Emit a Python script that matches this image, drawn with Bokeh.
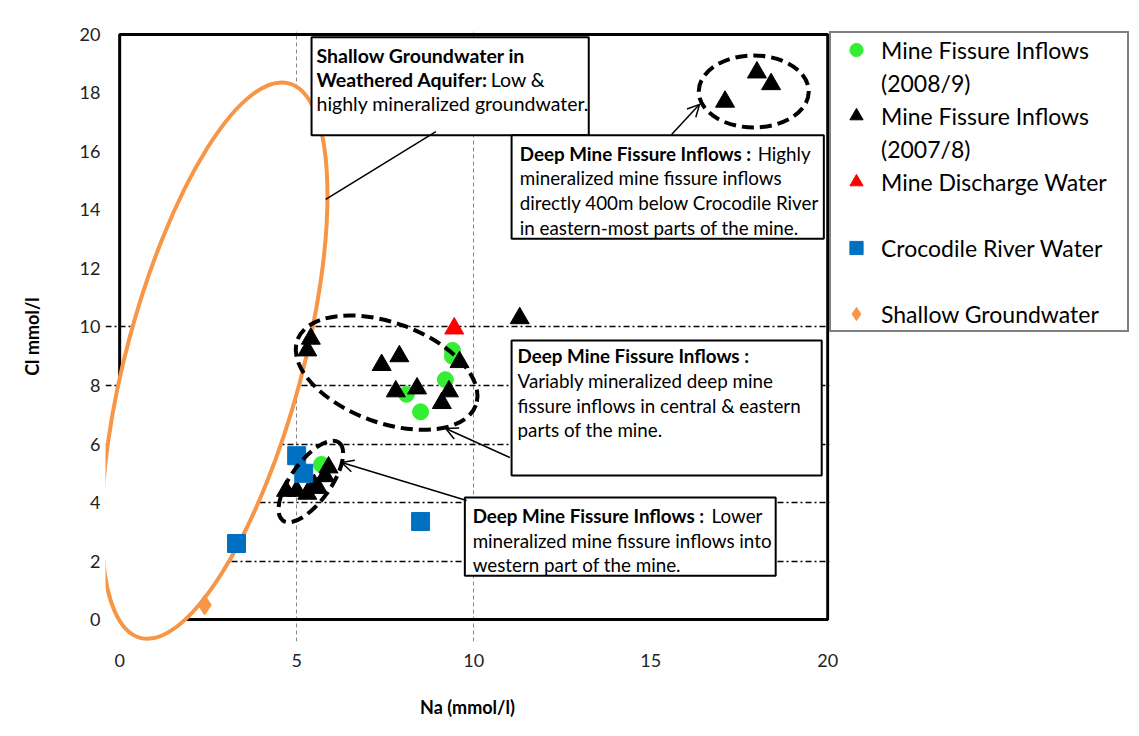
from bokeh.plotting import figure
from bokeh.models import (Range1d, FixedTicker, Legend, LegendItem,
                          BoxAnnotation, Label, Arrow, OpenHead)
from bokeh.core.properties import value
from bokeh.embed import file_html
from bokeh.resources import INLINE

# ---------------- data (Na, Cl in mmol/l) ----------------
fissure_0809_na = [5.7, 8.1, 8.5, 9.2, 9.4, 9.4]
fissure_0809_cl = [5.3, 7.7, 7.1, 8.2, 9.0, 9.2]

fissure_0708_na = [17.1, 18.0, 18.4, 11.3, 5.4, 5.3, 7.4, 7.9, 7.8, 8.4,
                   9.6, 9.3, 9.1, 4.7, 5.0, 5.3, 5.5, 5.8, 5.9, 5.6]
fissure_0708_cl = [17.7, 18.7, 18.3, 10.3, 9.6, 9.2, 8.7, 9.0, 7.8, 7.9,
                   8.8, 7.8, 7.4, 4.4, 4.4, 4.3, 4.6, 4.9, 5.2, 4.5]

discharge_na = [9.45]
discharge_cl = [9.95]

river_na = [5.0, 5.2, 8.5, 3.3]
river_cl = [5.6, 5.0, 3.35, 2.6]

shallow_na = [2.4]
shallow_cl = [0.5]

x_ticks = [0, 5, 10, 15, 20]
y_ticks = [0, 2, 4, 6, 8, 10, 12, 14, 16, 18, 20]
h_grid = [2, 4, 6, 8, 10]
v_grid = [5, 10]

FONT = "Lato"

p = figure(frame_width=724, frame_height=610,
           x_range=Range1d(-0.4, 20.05), y_range=Range1d(-0.75, 20.1),
           min_border_left=105, min_border_right=300, min_border_top=31, min_border_bottom=87,
           output_backend="svg", toolbar_location=None)
p.outline_line_color = None
p.background_fill_color = "white"
p.border_fill_color = "white"

# axes
p.xaxis.ticker = FixedTicker(ticks=x_ticks)
p.yaxis.ticker = FixedTicker(ticks=y_ticks)
for ax in (p.xaxis[0], p.yaxis[0]):
    ax.axis_line_color = None
    ax.major_tick_line_color = None
    ax.minor_tick_line_color = None
    ax.major_label_text_font = FONT
    ax.major_label_text_font_size = "18px"
    ax.major_label_text_color = "#222222"
    ax.axis_label_text_font = FONT
    ax.axis_label_text_font_size = "18px"
    ax.axis_label_text_font_style = "bold"
    ax.axis_label_text_color = "black"
p.xaxis.axis_label = "Na (mmol/l)"
p.yaxis.axis_label = "Cl mmol/l"
p.xaxis.major_label_standoff = 6
p.xaxis.axis_label_standoff = 26
p.yaxis.major_label_standoff = -1
p.yaxis.axis_label_standoff = 34

# grids
p.ygrid.ticker = FixedTicker(ticks=h_grid)
p.ygrid.grid_line_color = "black"
p.ygrid.grid_line_width = 1.5
p.ygrid.grid_line_dash = "6 3 2 3"
p.xgrid.ticker = FixedTicker(ticks=v_grid)
p.xgrid.grid_line_color = "#888888"
p.xgrid.grid_line_width = 1
p.xgrid.grid_line_dash = "4 3"

# thick plot-area frame
p.quad(left=[x_ticks[0]], right=[x_ticks[-1]], bottom=[y_ticks[0]], top=[y_ticks[-1]],
       fill_alpha=0, line_color="black", line_width=3)

# orange ellipse (shallow groundwater), white filled
p.ellipse(x=[2.68], y=[8.85], width=[176], height=[574], angle=[-0.262],
          width_units="screen", height_units="screen",
          fill_color="white", line_color="#F79646", line_width=4)

# data points
r_green = p.scatter(fissure_0809_na, fissure_0809_cl, marker="circle", size=16,
                    fill_color="#33EE33", line_color="#33EE33")
r_black = p.scatter(fissure_0708_na, fissure_0708_cl, marker="triangle", size=19,
                    fill_color="black", line_color="black")
r_red = p.scatter(discharge_na, discharge_cl, marker="triangle", size=19,
                  fill_color="#FF0000", line_color="#FF0000")
r_blue = p.scatter(river_na, river_cl, marker="square", size=18,
                   fill_color="#0070C0", line_color="#0070C0")
r_orange = p.scatter(shallow_na, shallow_cl, marker="diamond", size=20,
                     fill_color="#F79646", line_color="#F79646")

# dashed black ellipses around groups
p.ellipse(x=[17.91, 7.54, 5.40], y=[18.05, 8.44, 4.72],
          width=[110, 190, 96], height=[72, 100, 40], angle=[0, -0.35, 0.95],
          width_units="screen", height_units="screen",
          fill_alpha=0, line_color="black", line_width=4, line_dash="12 6")

# text boxes
boxes = [
    (5.42, 13.25, 19.90, 16.55),
    (11.07, 19.89, 16.55, 13.02),
    (11.07, 19.83, 9.54, 4.92),
    (9.75, 18.53, 4.17, 1.50),
]
for l, r, t, b in boxes:
    p.add_layout(BoxAnnotation(left=l, right=r, top=t, bottom=b, fill_color="white",
                               fill_alpha=1, line_color="black", line_width=2, line_alpha=1))

texts = [
    (5.56, 19.28, "Shallow Groundwater in", "bold", "19.5px"),
    (5.56, 18.46, "Weathered Aquifer:", "bold", "19.5px"),
    (10.48, 18.46, "Low &", "normal", "19.5px"),
    (5.56, 17.64, "highly mineralized groundwater.", "normal", "19.5px"),

    (11.30, 15.93, "Deep Mine Fissure Inflows :", "bold", "18.8px"),
    (18.02, 15.93, "Highly", "normal", "18.8px"),
    (11.30, 15.11, "mineralized mine fissure inflows", "normal", "18.8px"),
    (11.30, 14.26, "directly 400m below Crocodile River", "normal", "18.8px"),
    (11.30, 13.40, "in eastern-most parts of the mine.", "normal", "18.8px"),

    (11.24, 9.03, "Deep Mine Fissure Inflows :", "bold", "18.8px"),
    (11.24, 8.17, "Variably mineralized deep mine", "normal", "18.8px"),
    (11.24, 7.32, "fissure inflows in central & eastern", "normal", "18.8px"),
    (11.24, 6.50, "parts of  the mine.", "normal", "18.8px"),

    (9.97, 3.56, "Deep Mine Fissure Inflows :", "bold", "18.8px"),
    (16.72, 3.56, "Lower", "normal", "18.8px"),
    (9.97, 2.70, "mineralized mine fissure inflows into", "normal", "18.8px"),
    (9.97, 1.88, "western part of the mine.", "normal", "18.8px"),
]
for x, y, t, style, fs in texts:
    p.add_layout(Label(x=x, y=y, text=t, text_font=FONT, text_font_size=fs,
                       text_font_style=style, text_baseline="middle", text_align="left",
                       text_color="black"))

# arrows
p.add_layout(Arrow(x_start=8.93, y_start=16.68, x_end=5.82, y_end=14.36, end=None,
                   line_color="black", line_width=1.5))
arrows = [
    (15.59, 16.58, 16.38, 17.61),
    (11.02, 5.54, 9.21, 6.53),
    (9.80, 4.07, 6.27, 5.37),
]
for xs, ys, xe, ye in arrows:
    p.add_layout(Arrow(x_start=xs, y_start=ys, x_end=xe, y_end=ye,
                       end=OpenHead(size=12, line_color="black", line_width=1.5),
                       line_color="black", line_width=1.5))

# legend
items = [
    LegendItem(label=value("Mine Fissure Inflows"), renderers=[r_green]),
    LegendItem(label=value("(2008/9)"), renderers=[]),
    LegendItem(label=value("Mine Fissure Inflows"), renderers=[r_black]),
    LegendItem(label=value("(2007/8)"), renderers=[]),
    LegendItem(label=value("Mine Discharge Water"), renderers=[r_red]),
    LegendItem(label=value(" "), renderers=[]),
    LegendItem(label=value("Crocodile River Water"), renderers=[r_blue]),
    LegendItem(label=value(" "), renderers=[]),
    LegendItem(label=value("Shallow Groundwater"), renderers=[r_orange]),
]
legend = Legend(items=items, location="top_left", margin=0, padding=0, spacing=0,
                glyph_width=50, glyph_height=33, label_height=33, label_width=246,
                label_standoff=0, label_text_font=FONT, label_text_font_size="23px",
                label_text_color="black",
                border_line_color="black", border_line_width=2, background_fill_alpha=1)
p.add_layout(legend, "right")

open("out.html", "w").write(file_html(p, INLINE))
